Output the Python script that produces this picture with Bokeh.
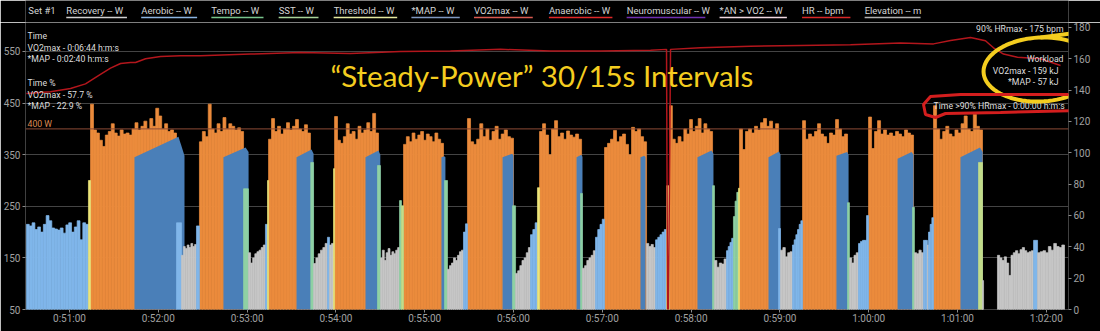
import numpy as np
from bokeh.plotting import figure
from bokeh.layouts import column
from bokeh.models import Range1d, LinearAxis, FixedTicker, Span
from bokeh.core.properties import value
from bokeh.embed import file_html
from bokeh.resources import INLINE

# ---------------- data ----------------
tick_seconds = [3060, 3120, 3180, 3240, 3300, 3360, 3420, 3480, 3540, 3600, 3660, 3720]
tick_labels = ["0:51:00", "0:52:00", "0:53:00", "0:54:00", "0:55:00", "0:56:00",
               "0:57:00", "0:58:00", "0:59:00", "1:00:00", "1:01:00", "1:02:00"]
watt_ticks = [50, 150, 250, 350, 450, 550]
hr_ticks = [0, 20, 40, 60, 80, 100, 120, 140, 160, 180]

zone_names = ["Recovery", "Aerobic", "Tempo", "SST", "Threshold", "*MAP", "VO2max"]
zone_colors = ["#c6c6c6", "#80b6ea", "#8fd1a4", "#c2dc8a", "#ece57a", "#4a7fb8", "#eb8b3c"]

# VO2max work blocks (seconds of ride, watts)
work_start = [3074.2, 3147.8, 3194.5, 3239.1, 3285.7, 3328.9, 3377.6, 3421.5, 3465.4, 3512.7, 3555.3, 3599.9, 3643.8]
work_end = [3132.3, 3177.6, 3222.8, 3268.8, 3312.7, 3360.0, 3406.0, 3449.9, 3494.5, 3539.1, 3585.7, 3630.3, 3676.9]
work_watts = [
    [448, 398, 392, 378, 366, 388, 395, 410, 392, 386, 398, 390, 392, 388, 400, 412, 398, 405, 415, 400, 420, 405, 440, 425, 400, 410, 395, 398, 392],
    [375, 395, 385, 448, 400, 392, 410, 395, 422, 400, 410, 405, 398, 402, 395],
    [380, 420, 395, 405, 390, 400, 412, 398, 405, 418, 400, 395, 408, 392],
    [424, 378, 372, 385, 410, 390, 395, 380, 405, 392, 398, 412, 395, 430, 392],
    [370, 385, 375, 392, 380, 388, 395, 378, 390, 385, 375, 392, 380, 372],
    [420, 375, 370, 380, 410, 385, 400, 378, 395, 405, 380, 390, 398, 385, 382],
    [395, 410, 388, 350, 400, 416, 385, 392, 380, 396, 388, 384, 390, 380],
    [364, 372, 380, 397, 375, 385, 390, 370, 350, 403, 395, 400, 385, 375],
    [445, 380, 372, 385, 375, 400, 390, 418, 395, 405, 420, 392, 410, 400, 395],
    [400, 360, 395, 400, 392, 405, 398, 412, 420, 405, 415, 400, 410],
    [416, 380, 390, 385, 395, 410, 390, 385, 372, 392, 388, 418, 400, 385, 390],
    [423, 362, 395, 416, 390, 398, 388, 392, 386, 395, 390, 385, 398, 392, 388],
    [445, 400, 380, 395, 405, 390, 385, 398, 392, 410, 425, 400, 395, 428, 405, 398],
]

# *MAP areas (start, end, watts at start / peak / end)
map_start = [3103.9, 3164.0, 3213.4, 3260.0, 3311.3, 3352.6, 3402.6, 3445.8, 3484.3, 3532.3, 3578.2, 3619.5, 3662.0]
map_end = [3137.7, 3181.0, 3224.9, 3270.0, 3314.0, 3360.0, 3406.6, 3449.2, 3495.1, 3540.4, 3586.4, 3630.3, 3677.0]
map_w_start = [345, 345, 345, 345, 345, 345, 345, 345, 345, 345, 348, 342, 345]
map_w_peak = [385, 364, 360, 358, 347, 352, 350, 348, 358, 356, 355, 355, 364]
map_w_end = [348, 355, 352, 350, 345, 348, 346, 345, 352, 350, 350, 350, 355]

# other samples: zone index, start, end, watts
seg_zone = [1, 4, 1, 0, 1, 2, 0, 1, 4, 2, 0, 1, 0, 4, 2, 0, 2, 3, 2, 0, 1, 2, 0, 1, 4, 2,
            0, 1, 0, 1, 4, 2, 0, 1, 2, 4, 1, 0, 1, 2, 0, 1, 2, 0, 1, 0, 1, 3, 0, 0, 1, 0]
seg_start = [3030.9, 3072.8, 3132.3, 3135.7, 3145.8, 3177.6, 3180.9, 3192.4, 3193.8, 3223.0,
             3224.9, 3234.3, 3235.7, 3238.4, 3268.1, 3270.1, 3283.0, 3284.3, 3313.4, 3315.4,
             3326.2, 3359.3, 3361.4, 3371.5, 3376.2, 3405.3, 3406.6, 3415.4, 3449.9, 3456.0,
             3463.4, 3494.5, 3495.8, 3503.9, 3508.6, 3512.0, 3539.1, 3540.4, 3548.5, 3585.7,
             3587.0, 3593.1, 3629.6, 3630.9, 3637.0, 3639.7, 3640.4, 3674.2, 3676.9, 3687.0,
             3711.4, 3714.1]
seg_end = [3072.8, 3074.2, 3135.7, 3145.8, 3147.8, 3180.9, 3192.4, 3193.8, 3194.5, 3224.9,
           3234.3, 3235.7, 3238.4, 3239.1, 3270.1, 3283.0, 3284.3, 3285.7, 3315.4, 3326.2,
           3328.9, 3361.4, 3371.5, 3376.2, 3377.6, 3406.6, 3415.4, 3421.5, 3456.0, 3463.4,
           3465.4, 3495.8, 3503.9, 3508.6, 3512.0, 3512.7, 3540.4, 3548.5, 3555.3, 3587.0,
           3593.1, 3599.9, 3630.9, 3637.0, 3639.7, 3640.4, 3643.8, 3676.9, 3677.6, 3711.4,
           3714.1, 3732.3]
seg_watts = [
    [215, 212, 218, 205, 210, 200, 215, 232, 222, 208, 206, 204, 208, 198, 214, 218, 200, 210, 222, 185, 218, 215],
    [300], [218], [155, 172, 168, 175, 170, 178, 172, 176], [212],
    [284], [160, 140, 150, 158, 162, 165, 170, 175], [215], [300],
    [335], [139, 150, 158, 165, 170, 178], [190], [175, 178], [323],
    [329], [150, 165, 145, 160, 168, 155, 162, 158, 165, 170], [261], [251],
    [300], [128, 135, 140, 150, 145, 155, 162, 165], [200, 216],
    [251], [120, 125, 135, 145, 150, 160, 170], [195, 205, 218], [286],
    [275], [130, 135, 145, 150, 155, 164], [190, 205, 215, 225],
    [178, 172, 176, 170], [185, 190, 195, 200, 205], [290],
    [290], [145, 132, 140, 138, 148], [164, 172, 180, 188], [230, 260, 277], [285],
    [207], [165, 170, 152, 160, 162], [175, 185, 195, 205, 215, 222],
    [257], [150, 140, 155, 160], [178, 182, 184, 184, 232],
    [248], [160, 158, 165, 160], [184, 184], [175], [200, 215, 228],
    [335], [106],
    [155, 150, 145, 152, 140, 116, 155, 160, 164, 158, 166, 170, 164, 160, 162, 164],
    [184], [160, 162, 164, 160, 172, 165, 178, 172, 170, 175],
]

hr_time = [3030.9, 3047.2, 3060.7, 3070.8, 3080.9, 3087.7, 3094.5, 3101.2, 3104.6, 3111.4,
           3121.5, 3135.0, 3148.5, 3182.3, 3216.1, 3249.9, 3283.6, 3317.4, 3351.2, 3385.0,
           3418.8, 3452.6, 3463.4, 3464.1, 3464.7, 3466.1, 3486.4, 3520.1, 3553.9, 3587.7,
           3621.5, 3643.8, 3655.3, 3668.8, 3678.9, 3684.3, 3691.1, 3700.5, 3716.1, 3729.6]
hr_bpm = [137.8, 139, 141, 144, 150, 154, 157, 157.6, 157.6, 160,
          161.5, 162, 162, 163, 164, 163.4, 164.6, 165, 166, 165,
          165, 165.5, 166, 0, 0, 166, 167, 168, 168.5, 169,
          170, 169.5, 171.7, 173.6, 171.5, 167, 163, 161, 160, 155.7]

ftp_watts = 400

legend_labels = ["Recovery -- W", "Aerobic -- W", "Tempo -- W", "SST -- W", "Threshold -- W",
                 "*MAP -- W", "VO2max -- W", "Anaerobic -- W", "Neuromuscular -- W",
                 "*AN > VO2 -- W", "HR -- bpm", "Elevation -- m"]
legend_colors = ["#d0d0d0", "#8cb4e0", "#78c48c", "#a8d49a", "#e4e8a0", "#7f98c0",
                 "#d85a50", "#e02828", "#7030b0", "#f0d8e0", "#d82828", "#b0b0b0"]

# ---------------- layout helpers (page pixels -> data) ----------------
TOPH = 22                    # legend strip height
FL, FR, FB = 25, 1068, 309   # main frame left/right/bottom in page px
X0, X1 = 3030.27, 3735.0
WB, WT = 50, 606.2
HRT = 183.15
FONT = "Roboto"


def X(px):
    return X0 + (px - FL) / (FR - FL) * (X1 - X0)


def Y(py):
    return WB + (FB - py) / (FB - TOPH) * (WT - WB)


# ---- legend strip ----
lg = figure(width=1100, height=TOPH, x_range=Range1d(0, 1100), y_range=Range1d(TOPH, 0),
            output_backend="svg", toolbar_location=None, min_border=0,
            x_axis_location=None, y_axis_location=None,
            background_fill_color="black", border_fill_color="black", outline_line_color=None)
lg.grid.visible = False
leg_px = [(43, 107), (122, 181), (196, 251), (267, 309), (325, 392), (407, 458), (473, 535),
          (552, 619), (634, 717), (732, 803), (819, 870), (885, 944)]
lg.text(x=[3] + [l for l, r in leg_px], y=[10] * (len(leg_px) + 1), text=["Set #1"] + legend_labels,
        text_color="#d4d4d4", text_align="left", text_baseline="middle",
        text_font_size=value("9.5px"), text_font=value(FONT))
lg.segment(x0=[l for l, r in leg_px], x1=[r for l, r in leg_px], y0=[17] * len(leg_px),
           y1=[17] * len(leg_px), line_color=legend_colors, line_width=1.5)

# ---- main chart ----
p = figure(width=1100, height=331 - TOPH, x_range=Range1d(X0, X1), y_range=Range1d(WB, WT),
           output_backend="svg", toolbar_location=None,
           min_border_left=FL, min_border_right=1100 - FR, min_border_top=0, min_border_bottom=331 - FB,
           background_fill_color="black", border_fill_color="black", outline_line_color=None)
p.extra_y_ranges = {"hr": Range1d(0, HRT)}

p.xaxis.ticker = FixedTicker(ticks=tick_seconds)
p.xaxis.major_label_overrides = {t: l for t, l in zip(tick_seconds, tick_labels)}
p.yaxis.ticker = FixedTicker(ticks=watt_ticks)
ra = LinearAxis(y_range_name="hr", ticker=FixedTicker(ticks=hr_ticks))
p.add_layout(ra, "right")
for ax in [p.xaxis[0], p.yaxis[0], ra]:
    ax.axis_line_color = None
    ax.major_tick_line_color = "#8a8a8a"
    ax.major_tick_out = 3
    ax.major_tick_in = 0
    ax.minor_tick_line_color = None
    ax.major_label_text_color = "#a0a0a0"
    ax.major_label_text_font = FONT
    ax.major_label_text_font_size = "10px"
    ax.major_label_standoff = 2
p.xaxis.major_label_standoff = 0
p.xgrid.grid_line_color = None
p.ygrid.ticker = FixedTicker(ticks=watt_ticks)
p.ygrid.grid_line_color = "#444444"

p.add_layout(Span(location=ftp_watts, dimension="width", line_color="#8c4b36", line_width=1))

# work blocks (VO2max)
L, R, T, C = [], [], [], []
for s, e, ws in zip(work_start, work_end, work_watts):
    ed = np.linspace(s, e, len(ws) + 1)
    L += list(ed[:-1]); R += list(ed[1:]); T += ws; C += [zone_colors[6]] * len(ws)
p.quad(left=L, right=R, top=T, bottom=0, fill_color=C, line_color=C, line_width=0.7)

# *MAP areas
xs, ys = [], []
for s, e, a, b, c in zip(map_start, map_end, map_w_start, map_w_peak, map_w_end):
    pk = e - max(0.8, 0.12 * (e - s))
    xs.append([s, s, pk, e, e])
    ys.append([0, a, b, c, 0])
p.patches(xs, ys, fill_color=zone_colors[5], line_color=None)

# other samples
L, R, T, C = [], [], [], []
for z, s, e, ws in zip(seg_zone, seg_start, seg_end, seg_watts):
    ed = np.linspace(s, e, len(ws) + 1)
    L += list(ed[:-1]); R += list(ed[1:]); T += ws; C += [zone_colors[z]] * len(ws)
p.quad(left=L, right=R, top=T, bottom=0, fill_color=C, line_color=C, line_width=0.7)

# heart rate
p.line(hr_time, hr_bpm, y_range_name="hr", line_color="#b3161c", line_width=1.5)


def texts(items, color="#dedede", align="left", size="8.7px", font=FONT):
    p.text(x=[X(a) for a, _, _ in items], y=[Y(b) for _, b, _ in items], text=[t for _, _, t in items],
           text_color=color, text_align=align, text_baseline="middle",
           text_font_size=value(size), text_font=value(font))


texts([(27, 35, "Time"), (27, 47, "VO2max - 0:06:44 h:m:s"), (27, 58, "*MAP - 0:02:40 h:m:s"),
       (27, 82, "Time %"), (27, 94, "VO2max - 57.7 %"), (27, 105, "*MAP - 22.9 %"),
       (933, 105, "Time >90% HRmax - 0:00:00 h:m:s")])
texts([(27, 123, "400 W")], color="#dd8a52")
texts([(1063, 28, "90% HRmax - 175 bpm"), (1063, 58, "Workload"),
       (1058, 70, "VO2max - 159 kJ"), (1058, 81, "*MAP - 57 kJ")], align="right")

# hand-written notes
YEL = "#f4cd1f"
texts([(330, 75, "\u201cSteady-Power\u201d 30/15s Intervals")], color=YEL, size="29.5px", font="Lato")
th = np.linspace(0.3, 2 * np.pi + 0.9, 90)
cx, cy, a, b, ang = 1040, 69, 57, 32, -0.05
ex = cx + a * np.cos(th) * np.cos(ang) - b * np.sin(th) * np.sin(ang)
ey = cy + a * np.cos(th) * np.sin(ang) + b * np.sin(th) * np.cos(ang)
p.line([X(v) for v in ex], [Y(v) for v in ey], line_color=YEL, line_width=4)
tail = [(1040, 37), (1070, 33), (1100, 29)]
p.line([X(a_) for a_, _ in tail], [Y(b_) for _, b_ in tail], line_color=YEL, line_width=4)
box = [(1082, 94), (960, 94), (930, 96), (923, 104), (925, 114), (935, 117), (945, 113), (1000, 112), (1082, 110)]
p.line([X(a_) for a_, _ in box], [Y(b_) for _, b_ in box], line_color="#d41e1e", line_width=3)

layout = column(lg, p, spacing=0)
open("out.html", "w").write(file_html(layout, INLINE))
